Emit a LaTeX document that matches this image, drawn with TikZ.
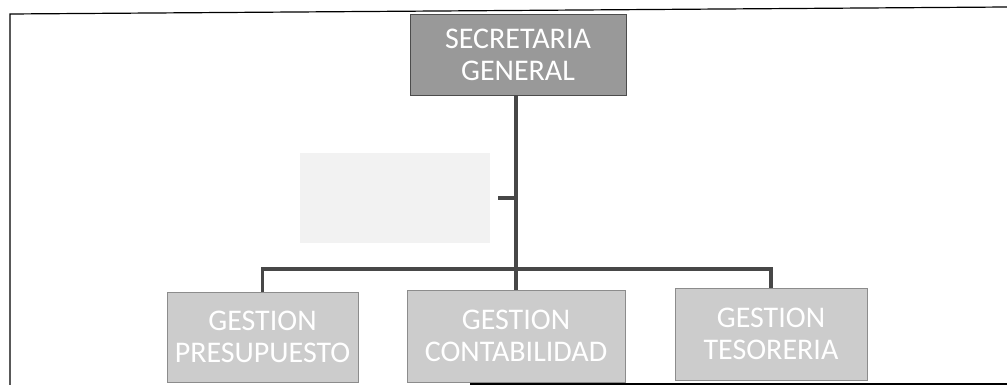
\documentclass[tikz,border=0pt]{standalone}
\usepackage{fontspec}
\setmainfont{Carlito}
\begin{document}
\begin{tikzpicture}[x=1pt,y=-1pt,
    unit/.style={draw=black!45,fill=black!20,text=white,align=center,
      inner sep=0pt,font=\fontsize{30}{32}\selectfont},
    head/.style={unit,draw=black!70,fill=black!40},
    link/.style={draw=black!72,line width=3.6pt}]
  \useasboundingbox (0,0) rectangle (1007,385);
  % frame
  \draw[line width=1.2pt] (1007,7) -- (10,14) -- (10,385);
  \draw[line width=1.6pt] (470,384) -- (1007,384);
  \draw
    (518,54.5) node[head,minimum width=216,minimum height=81] (sec) {SECRETARIA\\GENERAL}
    (395,198) node[unit,draw=none,fill=black!5,minimum width=190,minimum height=90] (asst) {}
    (262.5,337) node[unit,minimum width=191,minimum height=90] (pres) {GESTION\\PRESUPUESTO}
    (516,336) node[unit,minimum width=218,minimum height=92] (cont) {GESTION\\CONTABILIDAD}
    (771,334) node[unit,minimum width=192,minimum height=92] (tes) {GESTION\\TESORERIA};
  \coordinate (bus) at (516,269);
  \begin{scope}[link]
    \draw (sec.south -| bus) -- (cont.north);
    \draw[shorten <=8pt] (asst.east) -- (asst.east -| bus);
    \draw (pres.north) |- (bus) -| (tes.north);
  \end{scope}
\end{tikzpicture}
\end{document}
